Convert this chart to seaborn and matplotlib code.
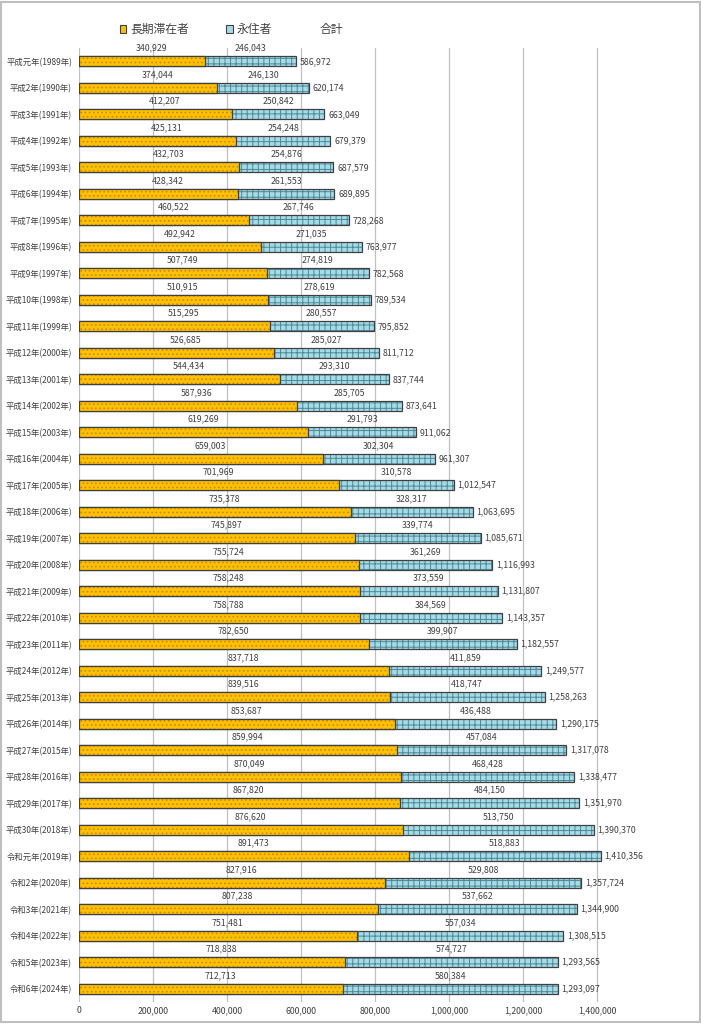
import matplotlib
matplotlib.use("Agg")
import matplotlib.pyplot as plt
import matplotlib.patches as mpatches
from matplotlib.lines import Line2D
import seaborn as sns
import pandas as pd

# data
years = ['平成元年(1989年)', '平成2年(1990年)', '平成3年(1991年)', '平成4年(1992年)',
         '平成5年(1993年)', '平成6年(1994年)', '平成7年(1995年)', '平成8年(1996年)',
         '平成9年(1997年)', '平成10年(1998年)', '平成11年(1999年)', '平成12年(2000年)',
         '平成13年(2001年)', '平成14年(2002年)', '平成15年(2003年)', '平成16年(2004年)',
         '平成17年(2005年)', '平成18年(2006年)', '平成19年(2007年)', '平成20年(2008年)',
         '平成21年(2009年)', '平成22年(2010年)', '平成23年(2011年)', '平成24年(2012年)',
         '平成25年(2013年)', '平成26年(2014年)', '平成27年(2015年)', '平成28年(2016年)',
         '平成29年(2017年)', '平成30年(2018年)', '令和元年(2019年)', '令和2年(2020年)',
         '令和3年(2021年)', '令和4年(2022年)', '令和5年(2023年)', '令和6年(2024年)']
choki = [340929, 374044, 412207, 425131, 432703, 428342, 460522, 492942,
         507749, 510915, 515295, 526685, 544434, 587936, 619269, 659003,
         701969, 735378, 745897, 755724, 758248, 758788, 782650, 837718,
         839516, 853687, 859994, 870049, 867820, 876620, 891473, 827916,
         807238, 751481, 718838, 712713]
eiju = [246043, 246130, 250842, 254248, 254876, 261553, 267746, 271035,
        274819, 278619, 280557, 285027, 293310, 285705, 291793, 302304,
        310578, 328317, 339774, 361269, 373559, 384569, 399907, 411859,
        418747, 436488, 457084, 468428, 484150, 513750, 518883, 529808,
        537662, 557034, 574727, 580384]
total = [586972, 620174, 663049, 679379, 687579, 689895, 728268, 763977,
         782568, 789534, 795852, 811712, 837744, 873641, 911062, 961307,
         1012547, 1063695, 1085671, 1116993, 1131807, 1143357, 1182557, 1249577,
         1258263, 1290175, 1317078, 1338477, 1351970, 1390370, 1410356, 1357724,
         1344900, 1308515, 1293565, 1293097]

df = pd.DataFrame({'year': years, 'choki': choki, 'eiju': eiju, 'total': total})

sns.set_style("white")
plt.rcParams['font.family'] = ['Noto Sans CJK JP', 'DejaVu Sans']
plt.rcParams['hatch.linewidth'] = 0.7

ORANGE = '#ffc000'
BLUE = '#a5dbe6'
EDGE = '#404040'

fig = plt.figure(figsize=(7.01, 10.24), dpi=100)
ax = fig.add_axes([0.1127, 0.0215, 0.7718, 0.9315])

w = 0.38
# stacked look: total bar (blue) underneath, long-stay bar (orange) on top
sns.barplot(data=df, x='total', y='year', orient='h', color=BLUE, width=w,
            saturation=1, ax=ax, zorder=2)
n1 = len(ax.patches)
for p in ax.patches[:n1]:
    p.set_edgecolor('#4f8796')
    p.set_hatch('+++')
    p.set_linewidth(0)
sns.barplot(data=df, x='total', y='year', orient='h', fill=False, width=w,
            ax=ax, zorder=3, color=EDGE, linewidth=0.9)
for p in ax.patches[n1:]:
    p.set_edgecolor(EDGE)
n2 = len(ax.patches)
sns.barplot(data=df, x='choki', y='year', orient='h', color=ORANGE, width=w,
            saturation=1, ax=ax, zorder=4)
for p in ax.patches[n2:]:
    p.set_edgecolor('#c88a00')
    p.set_hatch('....')
    p.set_linewidth(0)
n3 = len(ax.patches)
sns.barplot(data=df, x='choki', y='year', orient='h', fill=False, width=w,
            ax=ax, zorder=5, color=EDGE, linewidth=0.9)
for p in ax.patches[n3:]:
    p.set_edgecolor(EDGE)

# data labels
for i in range(len(years)):
    ax.text(choki[i] / 2 + 25000, i - 0.5, f"{choki[i]:,}", ha='center', va='center',
            fontsize=6.3, color='#404040', zorder=6)
    ax.text(choki[i] + eiju[i] / 2, i - 0.5, f"{eiju[i]:,}", ha='center', va='center',
            fontsize=6.3, color='#404040', zorder=6)
    ax.text(total[i] + 10000, i, f"{total[i]:,}", ha='left', va='center',
            fontsize=6.3, color='#404040', zorder=6)

ax.set_xlim(0, 1462000)
ax.set_ylim(len(years) - 0.5, -0.5)
ax.set_xticks(range(0, 1400001, 200000))
ax.set_xticklabels([f"{v:,}" for v in range(0, 1400001, 200000)], fontsize=6.3, color='#404040')
ax.tick_params(axis='y', labelsize=6.0, colors='#404040', length=0, pad=5)
ax.tick_params(axis='x', length=0, pad=3)
ax.set_xlabel('')
ax.set_ylabel('')
ax.grid(axis='x', color='#c0c0c0', linewidth=0.9, zorder=0)
ax.set_axisbelow(True)
for s in ax.spines.values():
    s.set_visible(False)

# legend
handles = [mpatches.Patch(facecolor=ORANGE, edgecolor=EDGE, linewidth=0.8),
           mpatches.Patch(facecolor=BLUE, edgecolor=EDGE, linewidth=0.8),
           Line2D([], [], linestyle='none')]
fig.legend(handles, ['長期滞在者', '永住者', '合計'], loc='center left',
           bbox_to_anchor=(0.171, 0.971), ncol=3, frameon=False, fontsize=8.5,
           handlelength=0.55, handleheight=0.55, handletextpad=0.3,
           columnspacing=3.2, borderpad=0, borderaxespad=0, labelcolor='#404040')

# outer frame
fig.patches.append(mpatches.Rectangle((0.002, 0.002), 0.996, 0.996, transform=fig.transFigure,
                                      fill=False, edgecolor='#bfbfbf', linewidth=1.5))

fig.savefig('out.png', dpi=100)
